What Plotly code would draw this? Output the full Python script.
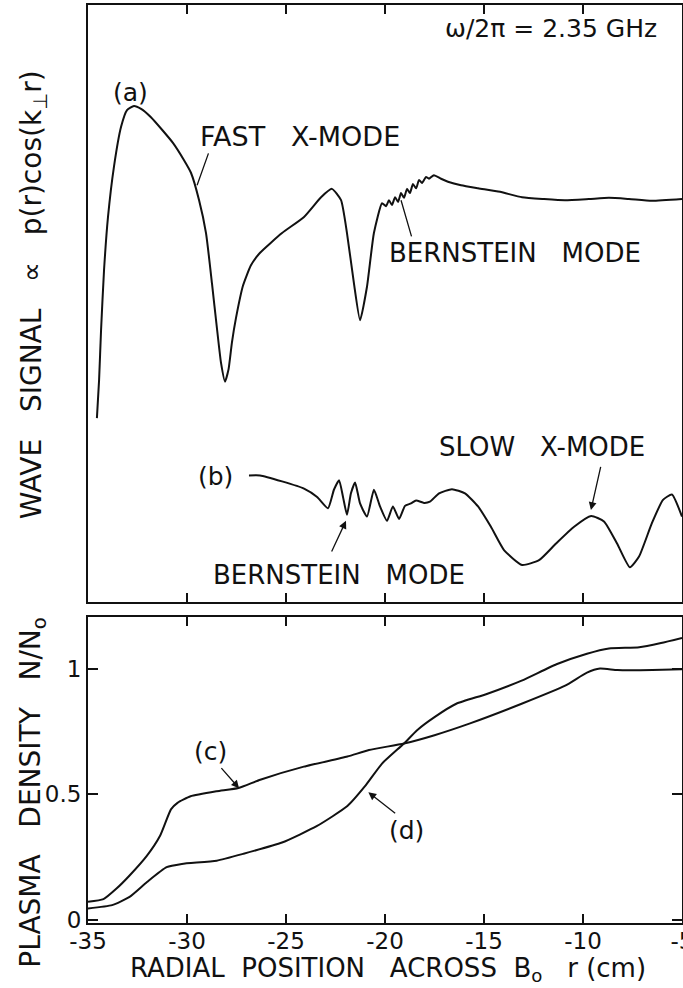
import plotly.graph_objects as go

# ---------------- data ----------------
# (a) wave signal, fast X-mode launch (arbitrary units)
r_a = [-34.55, -34.44, -34.34, -34.19, -33.99, -33.69, -33.33, -33.03, -32.68, -32.32,
       -31.82, -31.26, -30.71, -30.15, -29.80, -29.39, -29.04, -28.74, -28.48, -28.28,
       -28.08, -27.90, -27.73, -27.53, -27.17, -26.77, -26.31, -25.20, -24.09, -23.23,
       -22.68, -22.22, -21.92, -21.57, -21.26, -20.91, -20.56, -20.15, -19.95, -19.80,
       -19.65, -19.49, -19.34, -19.19, -19.04, -18.89, -18.74, -18.59, -18.43, -18.28,
       -18.13, -17.93, -17.78, -17.53, -17.17, -16.82, -16.16, -15.30, -14.19, -13.08,
       -11.97, -10.91, -9.70, -8.69, -7.68, -6.52, -5.0]
sig_a = [30.8, 37.2, 45.6, 55.6, 64.5, 72.9, 79.6, 82.4, 83.1, 82.6,
         81.2, 79.1, 76.9, 74.0, 71.9, 67.3, 61.8, 53.4, 45.6, 40.0,
         36.9, 39.0, 43.5, 47.5, 53.0, 56.4, 58.5, 61.8, 64.5, 67.8,
         69.2, 67.3, 61.8, 53.4, 47.2, 52.8, 61.8, 66.8, 66.3, 67.3,
         66.5, 67.8, 67.0, 68.5, 67.7, 69.2, 68.5, 70.0, 69.3, 70.7,
         70.2, 71.2, 70.9, 71.5, 70.9, 70.4, 69.8, 69.3, 68.7, 67.8,
         67.5, 67.3, 67.5, 67.7, 67.5, 67.2, 67.5]

# (b) wave signal, slow X-mode / Bernstein mode (arbitrary units)
r_b = [-26.87, -26.31, -25.20, -24.09, -23.43, -22.88, -22.58, -22.32, -22.12, -21.92,
       -21.72, -21.51, -21.26, -20.91, -20.56, -20.25, -19.90, -19.60, -19.29, -18.99,
       -18.69, -18.43, -18.03, -17.73, -17.27, -16.62, -15.96, -15.30, -14.65, -13.99,
       -13.08, -12.22, -11.36, -10.45, -9.59, -8.94, -8.28, -7.63, -7.17, -6.52,
       -5.96, -5.51, -5.0]
sig_b = [21.2, 21.2, 20.2, 19.0, 17.6, 15.7, 18.8, 20.4, 17.6, 14.6,
         18.2, 20.0, 16.5, 14.3, 18.8, 16.0, 13.6, 16.0, 13.9, 16.1,
         16.5, 17.0, 16.6, 16.8, 18.2, 18.9, 18.2, 16.0, 12.6, 8.7,
         6.2, 7.0, 9.8, 12.6, 14.4, 13.5, 9.8, 5.8, 7.6, 13.2,
         17.1, 18.0, 14.3]

# (c) plasma density N/No
r_c = [-35.0, -34.22, -33.56, -32.90, -32.02, -31.36, -30.81, -30.48, -29.82, -28.50,
       -27.40, -26.30, -24.10, -21.90, -20.81, -19.04, -17.50, -15.74, -13.10, -10.90,
       -9.80, -9.14, -8.26, -6.50, -5.0]
dens_c = [0.072, 0.083, 0.125, 0.177, 0.256, 0.335, 0.440, 0.466, 0.492, 0.512,
          0.525, 0.558, 0.610, 0.650, 0.676, 0.702, 0.735, 0.781, 0.860, 0.932,
          0.984, 1.000, 0.994, 0.994, 0.997]

# (d) plasma density N/No
r_d = [-35.0, -33.78, -32.90, -32.02, -31.03, -30.26, -28.50, -27.17, -25.20, -23.43,
       -21.90, -21.02, -20.14, -19.04, -18.38, -17.50, -16.40, -14.86, -13.10, -11.34,
       -9.80, -8.69, -7.16, -6.06, -5.0]
dens_d = [0.046, 0.059, 0.092, 0.151, 0.210, 0.223, 0.236, 0.263, 0.308, 0.374,
          0.453, 0.531, 0.623, 0.702, 0.755, 0.807, 0.860, 0.899, 0.952, 1.017,
          1.059, 1.080, 1.085, 1.102, 1.122]

x_ticks = [-35, -30, -25, -20, -15, -10, -5]
x_ticktext = ["-35", "-30", "-25", "-20", "-15", "-10", "-5"]
y_ticks = [0, 0.5, 1]
y_ticktext = ["0", "0.5", "1"]

# ---------------- figure ----------------
FONT = "DejaVu Sans"
INK = "#111111"
line_style = dict(color=INK, width=2, shape="spline", smoothing=0.5)

fig = go.Figure()
for xs, ys, xa, ya in [(r_a, sig_a, "x", "y"), (r_b, sig_b, "x", "y"),
                       (r_c, dens_c, "x2", "y2"), (r_d, dens_d, "x2", "y2")]:
    fig.add_trace(go.Scatter(x=xs, y=ys, mode="lines", line=line_style,
                             xaxis=xa, yaxis=ya, showlegend=False, hoverinfo="skip"))

axis_common = dict(showline=True, linecolor=INK, linewidth=2, mirror="ticks",
                   showgrid=False, zeroline=False, ticks="inside", ticklen=9,
                   tickwidth=1.6, tickcolor=INK, automargin=False)

fig.update_layout(
    template="none",
    width=683, height=988,
    margin=dict(l=88, r=1, t=5, b=65),
    paper_bgcolor="white", plot_bgcolor="white",
    font=dict(family=FONT, color=INK, size=24),
    xaxis=dict(axis_common, domain=[0, 1], range=[-35, -5], anchor="y",
               tickmode="array", tickvals=x_ticks, showticklabels=False),
    yaxis=dict(showline=True, linecolor=INK, linewidth=2, mirror=True,
               showgrid=False, zeroline=False, ticks="", showticklabels=False,
               automargin=False, domain=[0.3497, 1.0], range=[0, 100], anchor="x"),
    xaxis2=dict(axis_common, domain=[0, 1], range=[-35, -5], anchor="y2",
                tickmode="array", tickvals=x_ticks, ticktext=x_ticktext,
                ticklabeloverflow="allow", ticklabelstandoff=-4,
                tickfont=dict(size=23, family=FONT, color=INK)),
    yaxis2=dict(axis_common, domain=[0, 0.3333], range=[-0.012, 1.205], anchor="x2",
                tickmode="array", tickvals=y_ticks, ticktext=y_ticktext, ticklen=10,
                ticklabeloverflow="allow",
                tickfont=dict(size=23, family=FONT, color=INK)),
)

def label(text, x, y, xref="x", yref="y", size=25, angle=0, xanchor="center"):
    fig.add_annotation(text=text, x=x, y=y, xref=xref, yref=yref, showarrow=False,
                       font=dict(size=size, family=FONT, color=INK),
                       textangle=angle, xanchor=xanchor, yanchor="middle")

def pointer(x_head, y_head, x_tail, y_tail, xref="x", yref="y", head=0):
    fig.add_annotation(text="", x=x_head, y=y_head, ax=x_tail, ay=y_tail,
                       xref=xref, yref=yref, axref=xref, ayref=yref,
                       showarrow=True, arrowhead=head, arrowsize=1.2,
                       arrowwidth=1.3, arrowcolor=INK, standoff=0, startstandoff=0)

label("ω/2π = 2.35 GHz", -11.6, 96.0, size=25)
label("(a)", -32.83, 85.4, size=25)
label("FAST   X-MODE", -24.3, 78.0, size=27)
pointer(-29.49, 69.8, -28.89, 75.4)
label("BERNSTEIN   MODE", -13.45, 58.4, size=26)
pointer(-19.19, 67.3, -18.64, 61.0)
label("(b)", -28.54, 21.1, size=25)
label("SLOW   X-MODE", -12.07, 26.0, size=26)
pointer(-9.60, 15.4, -9.09, 22.9, head=2)
label("BERNSTEIN   MODE", -22.3, 4.5, size=26)
pointer(-21.97, 13.6, -22.73, 8.2, head=2)

label("(c)", -28.79, 0.669, xref="x2", yref="y2", size=25)
pointer(-27.37, 0.524, -28.33, 0.61, xref="x2", yref="y2", head=2)
label("(d)", -18.9, 0.354, xref="x2", yref="y2", size=25)
pointer(-20.84, 0.508, -19.41, 0.42, xref="x2", yref="y2", head=2)

label("WAVE   SIGNAL   ∝   p(r)cos(k<sub>⊥</sub>r)", -0.0926, 0.685,
      xref="paper", yref="paper", size=28, angle=-90)
label("PLASMA   DENSITY   N/N<sub>o</sub>", -0.0926, 0.143,
      xref="paper", yref="paper", size=28, angle=-90)
label("RADIAL  POSITION   ACROSS  B<sub>o</sub>   r (cm)", 0.505, -0.051,
      xref="paper", yref="paper", size=26)

fig.write_html("out.html")
